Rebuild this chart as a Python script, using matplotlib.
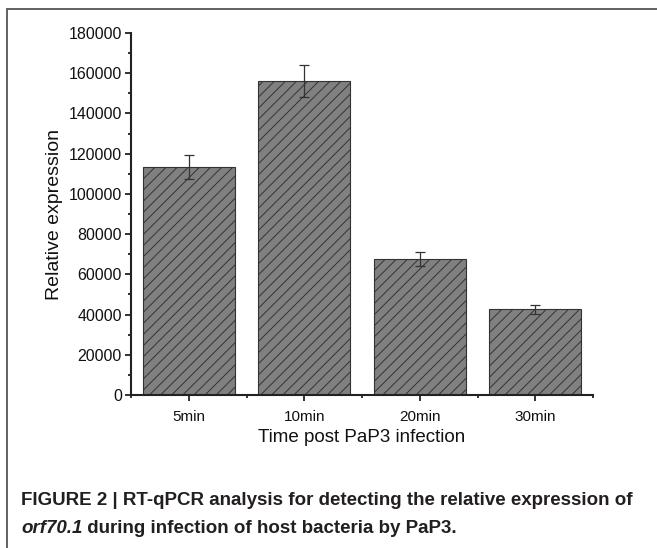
import numpy as np
import matplotlib.pyplot as plt
from matplotlib.patches import Rectangle
from matplotlib.ticker import MultipleLocator
from matplotlib.transforms import offset_copy

plt.rcParams['font.family'] = ['Liberation Sans', 'DejaVu Sans']
plt.rcParams['hatch.color'] = '#2a2a2a'
plt.rcParams['hatch.linewidth'] = 0.7

categories = ['5min', '10min', '20min', '30min']
expression = [113500, 156000, 67500, 42700]
errors = [6000, 8000, 3500, 2200]

fig = plt.figure(figsize=(6.57, 5.48), dpi=100)

# outer frame of the figure panel (only left and top visible)
fig.patches.append(Rectangle((7/657, -0.1), 1.2, 1 - 9/548 + 0.1, transform=fig.transFigure,
                             fill=False, edgecolor='#555555', linewidth=1.3))

ax = fig.add_axes([131/657, 1 - 395/548, 462/657, 362/548])
x = np.arange(1, len(categories) + 1)
ax.bar(x, expression, width=0.8, color='#808080', edgecolor='#333333', linewidth=0.8,
       hatch='///', zorder=2)
ax.errorbar(x, expression, yerr=errors, fmt='none', ecolor='#333333', elinewidth=0.9,
            capsize=3.5, capthick=0.9, zorder=3)

ax.set_xlim(0.5, 4.5)
ax.set_ylim(0, 180000)
ax.set_xticks(x)
ax.set_xticklabels(categories)
ax.xaxis.set_minor_locator(MultipleLocator(1.0, offset=0.5))
ax.yaxis.set_major_locator(MultipleLocator(20000))
ax.yaxis.set_minor_locator(MultipleLocator(10000))
ax.tick_params(axis='both', which='major', direction='out', length=4.5, width=1.3,
               color='#222222', labelcolor='#111111', pad=2)
ax.tick_params(axis='y', which='major', labelsize=11.5)
ax.tick_params(axis='x', which='major', labelsize=11, pad=6)
ax.tick_params(axis='both', which='minor', direction='out', length=2.5, width=1.3,
               color='#222222')
for s in ['top', 'right']:
    ax.spines[s].set_visible(False)
for s in ['left', 'bottom']:
    ax.spines[s].set_linewidth(1.5)
    ax.spines[s].set_color('#222222')

ax.set_ylabel('Relative expression', fontsize=14, color='#111111', labelpad=4)
ax.set_xlabel('Time post PaP3 infection', fontsize=13.5, color='#111111', labelpad=4)

cap_kw = dict(fontsize=13.5, fontweight='bold', color='#231f20', va='baseline')
fig.text(21/657, 1 - 505/548,
         'FIGURE 2 | RT-qPCR analysis for detecting the relative expression of', **cap_kw)
t1 = fig.text(21/657, 1 - 533/548, 'orf70.1', style='italic', **cap_kw)
fig.canvas.draw()
w = t1.get_window_extent().width
fig.text(21/657, 1 - 533/548, ' during infection of host bacteria by PaP3.',
         transform=offset_copy(fig.transFigure, fig=fig, x=w, y=0, units='dots'), **cap_kw)

fig.savefig('out.png', dpi=100)
